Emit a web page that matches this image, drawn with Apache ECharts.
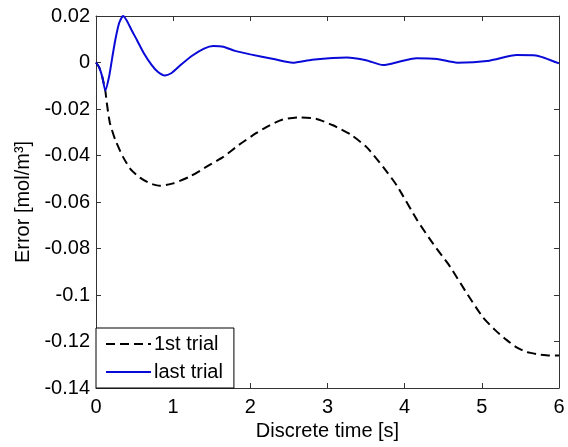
<!DOCTYPE html>
<html>
<head>
<meta charset="utf-8">
<script src="https://cdn.jsdelivr.net/npm/echarts@6/dist/echarts.min.js"></script>
<style>
  html, body { margin: 0; padding: 0; background: #fff; }
  #chart { width: 568px; height: 447px; }
</style>
</head>
<body>
<div id="chart"></div>
<script>
// time [s], error [mol/m^3]
const firstTrial = [
  [0, 0], [0.04, -0.002], [0.08, -0.006], [0.12, -0.012], [0.14, -0.0174], [0.18, -0.026],
  [0.25, -0.0333], [0.35, -0.0406], [0.45, -0.046], [0.57, -0.0495], [0.7, -0.052],
  [0.83, -0.053], [1.0, -0.052], [1.22, -0.049], [1.45, -0.0445], [1.65, -0.0406],
  [1.85, -0.0355], [2.08, -0.0303], [2.25, -0.027], [2.42, -0.0245], [2.64, -0.0236],
  [2.85, -0.0242], [3.07, -0.027], [3.3, -0.031], [3.51, -0.0365], [3.72, -0.0449],
  [3.9, -0.053], [4.16, -0.0677], [4.37, -0.078], [4.59, -0.0879], [4.8, -0.099],
  [5.01, -0.1094], [5.17, -0.115], [5.32, -0.1193], [5.45, -0.1225], [5.58, -0.1245],
  [5.75, -0.1256], [5.88, -0.126], [6, -0.126]
]
const lastTrial = [
  [0, 0], [0.04, -0.002], [0.08, -0.006], [0.12, -0.012], [0.17, -0.006], [0.21, 0.002],
  [0.25, 0.0097], [0.3, 0.017], [0.35, 0.02], [0.4, 0.018], [0.46, 0.014], [0.53, 0.0097],
  [0.62, 0.004], [0.72, -0.001], [0.8, -0.004], [0.89, -0.0056], [0.98, -0.0045],
  [1.1, -0.001], [1.25, 0.003], [1.4, 0.006], [1.52, 0.0071], [1.65, 0.0068], [1.8, 0.005],
  [2.0, 0.0035], [2.3, 0.0015], [2.55, -0.0001], [2.8, 0.0012], [3.25, 0.0022],
  [3.5, 0.001], [3.72, -0.0011], [3.95, 0.0005], [4.15, 0.0018], [4.42, 0.0015],
  [4.68, -0.0001], [5.1, 0.0008], [5.45, 0.0032], [5.7, 0.003], [6, -0.0004]
]
const xRange = [0, 6]
const yRange = [-0.14, 0.02]
const legendNames = ['1st trial', 'last trial']

const font = 'Liberation Sans, Arial, sans-serif'
const boxColor = '#333'

const chart = echarts.init(document.getElementById('chart'))

// matlab style: ticks pointing into the box
const tickIn = () => ({ show: true, inside: true, length: 5, lineStyle: { color: boxColor } })
const line = () => ({ show: true, onZero: false, lineStyle: { color: boxColor } })
const fmt = v => String(Number(v.toFixed(2)))

chart.setOption({
  animation: false,
  grid: { left: 96, right: 9, top: 16, bottom: 59 },
  legend: {
    orient: 'vertical',
    left: 96,
    bottom: 59,
    data: legendNames,
    backgroundColor: '#fff',
    borderColor: '#000',
    borderWidth: 1,
    padding: [6, 11, 6, 9],
    itemWidth: 45,
    itemHeight: 14,
    itemGap: 8,
    itemStyle: { opacity: 0 },
    textStyle: { color: '#000', fontSize: 20, fontFamily: font, padding: [0, 0, 0, -2] }
  },
  xAxis: [
    {
      type: 'value', min: xRange[0], max: xRange[1], interval: 1,
      name: 'Discrete time [s]', nameLocation: 'middle', nameGap: 30,
      nameTextStyle: { color: '#000', fontSize: 20, fontFamily: font },
      axisLine: line(),
      axisTick: tickIn(),
      axisLabel: { color: '#000', fontSize: 20, fontFamily: font, margin: 9 },
      splitLine: { show: false }
    },
    {
      type: 'value', position: 'top', min: xRange[0], max: xRange[1], interval: 1,
      axisLine: line(),
      axisTick: tickIn(), axisLabel: { show: false }, splitLine: { show: false }
    }
  ],
  yAxis: [
    {
      type: 'value', min: yRange[0], max: yRange[1], interval: 0.02,
      name: 'Error [mol/m³]', nameLocation: 'middle', nameGap: 63,
      nameTextStyle: { color: '#000', fontSize: 20, fontFamily: font },
      axisLine: line(),
      axisTick: tickIn(),
      axisLabel: { color: '#000', fontSize: 20, fontFamily: font, margin: 6, formatter: fmt },
      splitLine: { show: false }
    },
    {
      type: 'value', position: 'right', min: yRange[0], max: yRange[1], interval: 0.02,
      axisLine: line(),
      axisTick: tickIn(), axisLabel: { show: false }, splitLine: { show: false }
    }
  ],
  series: [
    {
      name: legendNames[0], type: 'line', data: firstTrial, smooth: 0.2,
      symbol: 'none', z: 2,
      itemStyle: { color: '#000' },
      lineStyle: { color: '#000', width: 2, type: [9, 5] }
    },
    {
      name: legendNames[1], type: 'line', data: lastTrial, smooth: 0.2,
      symbol: 'none', z: 3,
      itemStyle: { color: '#0a0ad8' },
      lineStyle: { color: '#0a0ad8', width: 2 }
    }
  ]
})
</script>
</body>
</html>
